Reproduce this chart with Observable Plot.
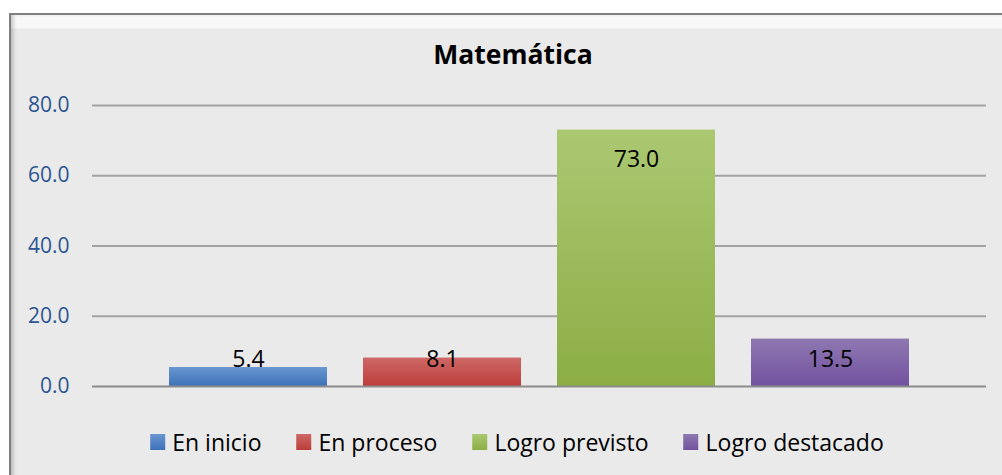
<!DOCTYPE html>
<html>
<head>
<meta charset="utf-8">
<script src="https://cdn.jsdelivr.net/npm/d3@7"></script>
<script src="https://cdn.jsdelivr.net/npm/@observablehq/plot@0.6"></script>
<style>
  html, body { margin: 0; padding: 0; width: 1002px; height: 475px; overflow: hidden; background: #ffffff; }
  body { position: relative; font-family: "Open Sans", Lato, sans-serif; }
  #frame {
    position: absolute; left: 9px; top: 13px; width: 1010px; height: 470px;
    border-top: 2px solid #7f7f7f; border-left: 2px solid #7f7f7f;
    background: linear-gradient(to bottom, #f8f8f8 0px, #f8f8f8 13px, #eaeaea 14px, #eaeaea 100%);
    box-shadow: inset 4px 0 4px -2px rgba(0,0,0,0.22), inset 0 -5px 5px -3px rgba(0,0,0,0.12);
  }
  #title {
    position: absolute; left: 513px; top: 36px; transform: translateX(-50%);
    font-weight: bold; font-size: 26.5px; color: #000; white-space: nowrap; line-height: 36px;
  }
  #chart { position: absolute; left: 0; top: 80px; }
  #legend {
    position: absolute; left: 517px; top: 426px; transform: translateX(-50%);
    display: flex; align-items: center; white-space: nowrap; font-size: 23px; color: #000; line-height: 32px;
  }
  .item { display: flex; align-items: center; margin-right: 35px; }
  .item:last-child { margin-right: 0; }
  .sw { width: 15px; height: 16px; margin-right: 7px; }
</style>
</head>
<body>
<div id="frame"></div>
<div id="title">Matemática</div>
<div id="chart"></div>
<div id="legend"></div>
<script>
const categories = ["En inicio", "En proceso", "Logro previsto", "Logro destacado"];
const values = [5.4, 8.1, 73.0, 13.5];
const yTicks = [0, 20, 40, 60, 80];
const gradTop = ["#6a96d0", "#cd6866", "#abc872", "#8e78b1"];
const gradBottom = ["#3d71b8", "#bc3d3a", "#8cae45", "#72529f"];

const data = categories.map((c, i) => ({category: c, value: values[i]}));
const gradIds = categories.map((c, i) => `grad${i}`);

const svg = Plot.plot({
  width: 1002,
  height: 330,
  marginLeft: 92,
  marginRight: 16,
  marginTop: 25,
  marginBottom: 24,
  style: {background: "transparent", fontFamily: "'Open Sans', Lato, sans-serif"},
  x: {domain: categories, range: [151, 927], paddingInner: 0.186, paddingOuter: 0.093, axis: null},
  y: {domain: [0, 80], axis: null},
  color: {type: "ordinal", domain: categories, range: gradIds.map(id => `url(#${id})`)},
  marks: [
    Plot.ruleY(yTicks.filter(t => t !== 0), {stroke: "#a3a3a3", strokeWidth: 2}),
    Plot.axisY({ticks: yTicks, tickFormat: d => d.toFixed(1), tickSize: 0, tickPadding: 23, fontSize: 21, color: "#2b5592", label: null}),
    Plot.barY(data, {x: "category", y: "value", fill: "category"}),
    Plot.ruleY([0], {stroke: "#8c8c8c", strokeWidth: 2}),
    Plot.text(data, {
      x: "category",
      y: d => Math.max(d.value - 8.5, 7.7),
      text: d => d.value.toFixed(1),
      fontSize: 23,
      fill: "#000"
    })
  ]
});

const defs = d3.select(svg).insert("defs", ":first-child");
gradIds.forEach((id, i) => {
  const g = defs.append("linearGradient").attr("id", id).attr("x1", 0).attr("y1", 0).attr("x2", 0).attr("y2", 1);
  g.append("stop").attr("offset", "0%").attr("stop-color", gradTop[i]);
  g.append("stop").attr("offset", "100%").attr("stop-color", gradBottom[i]);
});

document.getElementById("chart").appendChild(svg);

const legend = d3.select("#legend");
categories.forEach((c, i) => {
  const item = legend.append("div").attr("class", "item");
  item.append("div").attr("class", "sw")
    .style("background", `linear-gradient(to bottom, ${gradTop[i]}, ${gradBottom[i]})`);
  item.append("span").text(c);
});
</script>
</body>
</html>
